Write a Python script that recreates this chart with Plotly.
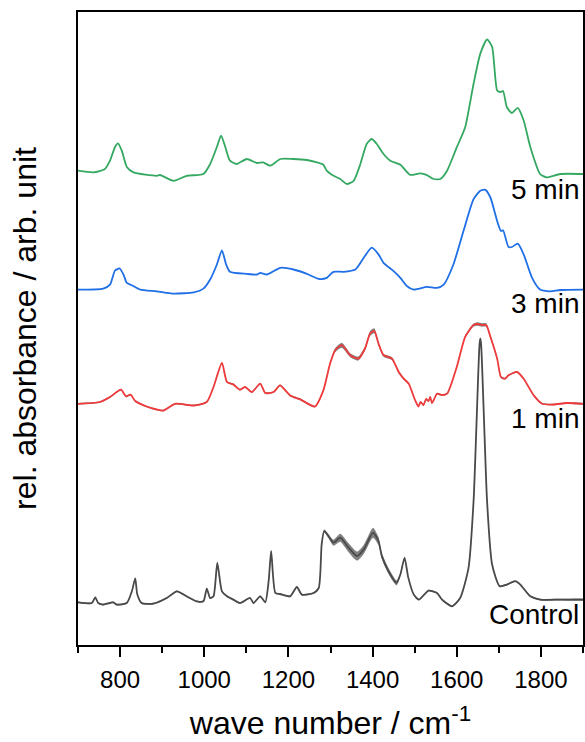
import plotly.graph_objects as go

# ---------------- data ----------------
ctrl_wn = [700, 733, 741, 748, 760, 784, 792, 816, 828, 836, 841, 851, 879, 911, 935, 958, 982, 998,
           1006, 1014, 1022, 1031, 1042, 1054, 1069, 1085, 1109, 1117, 1133, 1145, 1153, 1159, 1169,
           1180, 1204, 1220, 1232, 1260, 1272, 1279, 1285, 1295, 1307, 1323, 1343, 1363, 1379, 1401,
           1414, 1422, 1438, 1457, 1466, 1476, 1485, 1498, 1510, 1533, 1553, 1565, 1589, 1608, 1628,
           1640, 1646, 1651, 1654, 1656, 1658, 1661, 1666, 1672, 1684, 1702, 1719, 1739, 1751, 1775,
           1798, 1846, 1900]
ctrl_ab = [0.427, 0.42, 0.477, 0.42, 0.404, 0.427, 0.404, 0.42, 0.537, 0.665, 0.504, 0.42, 0.414, 0.47,
           0.537, 0.487, 0.437, 0.437, 0.564, 0.47, 0.487, 0.822, 0.537, 0.487, 0.454, 0.42, 0.47, 0.42,
           0.487, 0.427, 0.638, 0.939, 0.52, 0.51, 0.487, 0.58, 0.504, 0.52, 0.57, 1.006, 1.14, 1.09,
           1.023, 1.073, 0.973, 0.889, 0.956, 1.123, 1.04, 0.889, 0.738, 0.621, 0.705, 0.872, 0.671,
           0.504, 0.454, 0.544, 0.52, 0.454, 0.387, 0.47, 0.772, 1.441, 2.1, 2.7, 3.0, 3.065, 3.0, 2.7,
           2.1, 1.441, 0.805, 0.588, 0.604, 0.638, 0.604, 0.487, 0.454, 0.454, 0.454]
ctrl_sd = [0.008] * 39 + [0.012, 0.015, 0.02, 0.03, 0.04, 0.045, 0.045, 0.045, 0.05, 0.04, 0.03, 0.03,
                          0.025, 0.015, 0.012] + [0.008] * 27

m1_wn = [700, 752, 776, 802, 814, 825, 836, 863, 887, 903, 931, 975, 1006, 1022, 1042, 1054, 1069,
         1085, 1097, 1113, 1133, 1145, 1165, 1180, 1204, 1228, 1263, 1283, 1299, 1311, 1327, 1347,
         1366, 1382, 1394, 1404, 1414, 1426, 1446, 1462, 1474, 1486, 1498, 1503, 1509, 1514, 1521,
         1527, 1533, 1537, 1541, 1545, 1553, 1565, 1577, 1600, 1620, 1640, 1650, 1660, 1670, 1680,
         1696, 1705, 1715, 1723, 1743, 1759, 1783, 1803, 1830, 1862, 1900]
m1_ab = [2.412, 2.43, 2.48, 2.553, 2.486, 2.503, 2.44, 2.385, 2.355, 2.345, 2.412, 2.395, 2.43, 2.58,
         2.82, 2.63, 2.606, 2.553, 2.58, 2.53, 2.613, 2.52, 2.53, 2.596, 2.496, 2.456, 2.385, 2.546,
         2.814, 2.948, 2.998, 2.898, 2.864, 2.965, 3.115, 3.142, 3.015, 2.898, 2.864, 2.73, 2.663,
         2.613, 2.48, 2.43, 2.385, 2.43, 2.40, 2.46, 2.44, 2.48, 2.42, 2.446, 2.513, 2.50, 2.513,
         2.78, 3.082, 3.20, 3.21, 3.20, 3.20, 3.082, 2.864, 2.68, 2.663, 2.697, 2.73, 2.663, 2.496,
         2.412, 2.405, 2.42, 2.412]
m1_sd = [0.008] * 27 + [0.01, 0.015, 0.02, 0.025, 0.02, 0.02, 0.02, 0.025, 0.025, 0.02, 0.015, 0.015,
                        0.012, 0.01] + [0.008] * 15 + [0.012, 0.015, 0.018, 0.018, 0.018, 0.018, 0.015,
                                                        0.012] + [0.008] * 10

m3_wn = [700, 760, 776, 788, 799, 808, 816, 828, 848, 887, 927, 975, 998, 1014, 1030, 1042, 1052,
         1061, 1101, 1125, 1133, 1149, 1181, 1212, 1244, 1272, 1291, 1307, 1331, 1359, 1379, 1398,
         1414, 1426, 1450, 1466, 1482, 1498, 1529, 1553, 1569, 1592, 1616, 1640, 1656, 1668, 1680,
         1696, 1705, 1710, 1723, 1731, 1745, 1759, 1779, 1798, 1822, 1846, 1900]
m3_ab = [3.554, 3.564, 3.604, 3.745, 3.765, 3.705, 3.621, 3.598, 3.554, 3.537, 3.514, 3.527, 3.564,
         3.655, 3.805, 3.946, 3.805, 3.732, 3.711, 3.705, 3.722, 3.705, 3.772, 3.755, 3.711, 3.661,
         3.671, 3.732, 3.732, 3.755, 3.872, 3.973, 3.906, 3.822, 3.738, 3.671, 3.588, 3.554, 3.581,
         3.571, 3.604, 3.805, 4.14, 4.458, 4.542, 4.552, 4.475, 4.24, 4.14, 4.147, 3.98, 3.98, 4.013,
         3.906, 3.671, 3.554, 3.537, 3.55, 3.554]

m5_wn = [700, 737, 764, 776, 788, 795, 804, 816, 832, 887, 895, 927, 958, 998, 1014, 1030, 1040,
         1050, 1061, 1077, 1101, 1125, 1140, 1157, 1181, 1211, 1244, 1268, 1283, 1291, 1303, 1323,
         1339, 1355, 1371, 1386, 1398, 1410, 1426, 1442, 1466, 1489, 1513, 1528, 1545, 1561, 1577,
         1600, 1620, 1640, 1656, 1672, 1684, 1696, 1704, 1710, 1719, 1731, 1745, 1759, 1775, 1798,
         1814, 1846, 1900]
m5_ab = [4.743, 4.726, 4.76, 4.843, 4.98, 5.017, 4.944, 4.78, 4.726, 4.692, 4.70, 4.642, 4.692, 4.71,
         4.81, 4.98, 5.094, 4.98, 4.843, 4.81, 4.86, 4.82, 4.826, 4.793, 4.86, 4.86, 4.85, 4.826,
         4.803, 4.743, 4.702, 4.66, 4.61, 4.642, 4.81, 5.01, 5.06, 5.01, 4.91, 4.843, 4.803, 4.702,
         4.716, 4.702, 4.66, 4.66, 4.743, 4.977, 5.178, 5.613, 5.914, 6.055, 5.981, 5.546, 5.53, 5.54,
         5.38, 5.32, 5.372, 5.245, 4.977, 4.71, 4.676, 4.71, 4.71]

labels = ["5 min", "3 min", "1 min", "Control"]
label_y = [4.56, 3.42, 2.27, 0.31]

# ---------------- figure ----------------
FONT = "Liberation Sans, Arial, sans-serif"
BAND = "rgba(85,85,85,0.75)"
fig = go.Figure()


def add_band(wn, ab, sd):
    up = [a + s for a, s in zip(ab, sd)]
    lo = [a - s for a, s in zip(ab, sd)]
    fig.add_trace(go.Scatter(x=wn + wn[::-1], y=up + lo[::-1], fill="toself", fillcolor=BAND,
                             line=dict(width=0, shape="spline", smoothing=0.6), mode="lines",
                             hoverinfo="skip", showlegend=False))


add_band(ctrl_wn, ctrl_ab, ctrl_sd)
add_band(m1_wn, m1_ab, m1_sd)

series = [(ctrl_wn, ctrl_ab, "#4a4a4a"), (m1_wn, m1_ab, "#ef3b3b"),
          (m3_wn, m3_ab, "#1f6fe6"), (m5_wn, m5_ab, "#35a862")]
for wn, ab, col in series:
    fig.add_trace(go.Scatter(x=wn, y=ab, mode="lines",
                             line=dict(color=col, width=1.8, shape="spline", smoothing=0.6),
                             showlegend=False))

for t, yv in zip(labels, label_y):
    fig.add_annotation(x=1895, y=yv, xref="x", yref="y", text=t, showarrow=False,
                       xanchor="right", yanchor="middle", font=dict(size=28, color="black", family=FONT))

fig.update_layout(
    width=585, height=742,
    margin=dict(l=78, r=0, t=12, b=97),
    paper_bgcolor="white", plot_bgcolor="white",
    font=dict(family=FONT, color="black"),
)
fig.update_xaxes(
    range=[700, 1900], showgrid=False, zeroline=False,
    showline=True, linecolor="black", linewidth=2, mirror=True,
    tickmode="array", tickvals=[800, 1000, 1200, 1400, 1600, 1800],
    ticks="outside", ticklen=10, tickwidth=2, tickcolor="black",
    minor=dict(ticks="outside", ticklen=6, tickwidth=2, tickcolor="black", tick0=700, dtick=100),
    tickfont=dict(size=24, family=FONT), ticklabelstandoff=2,
    title=dict(text="wave number / cm<sup>-1</sup>", font=dict(size=32, family=FONT), standoff=20),
)
fig.update_yaxes(
    range=[0, 6.33], showgrid=False, zeroline=False, showticklabels=False, ticks="",
    showline=True, linecolor="black", linewidth=2, mirror=True,
    title=dict(text="rel. absorbance / arb. unit", font=dict(size=32, family=FONT), standoff=30),
)

fig.write_html("out.html", config={"displayModeBar": False},
               post_script="document.body.style.margin='0px';document.body.style.overflow='hidden';")
